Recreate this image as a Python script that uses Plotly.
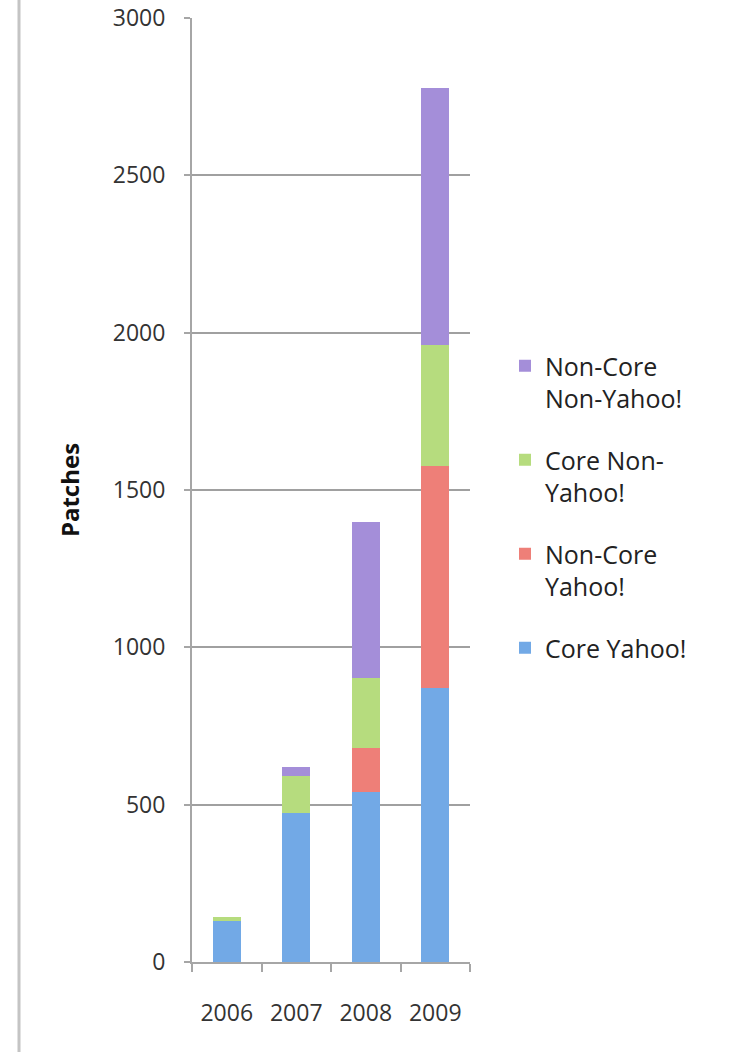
import plotly.graph_objects as go

years = ["2006", "2007", "2008", "2009"]
core_yahoo = [130, 473, 541, 870]
noncore_yahoo = [0, 0, 138, 707]
core_nonyahoo = [14, 118, 222, 384]
noncore_nonyahoo = [0, 29, 498, 816]

series_names = ["Core Yahoo!", "Non-Core<br>Yahoo!", "Core Non-<br>Yahoo!", "Non-Core<br>Non-Yahoo!"]
series_values = [core_yahoo, noncore_yahoo, core_nonyahoo, noncore_nonyahoo]
series_colors = ["#72a9e6", "#ee7f78", "#b6dc7e", "#a48ed9"]

L, R, T, B = 192, 280, 18, 90
W, H = 750, 1052
pw, ph = W - L - R, H - T - B

fig = go.Figure()
n = len(series_names)
for i, (name, vals, col) in enumerate(zip(series_names, series_values, series_colors)):
    fig.add_trace(go.Bar(
        x=years, y=vals, name=name,
        marker=dict(color=col, line=dict(width=0)),
        legendgroup=f"g{i}",
        legendrank=n - i,
    ))

fig.update_layout(
    width=W, height=H,
    margin=dict(l=L, r=R, t=T, b=B, autoexpand=False),
    paper_bgcolor="white", plot_bgcolor="white",
    barmode="stack", bargap=0.6,
    font=dict(family="Open Sans", color="#333333"),
    showlegend=True,
    legend=dict(
        x=(505 - L) / pw, xanchor="left",
        y=(962 - 343) / ph, yanchor="top",
        traceorder="grouped", tracegroupgap=26,
        font=dict(size=25, color="#222222", family="Open Sans"),
        valign="top", itemwidth=30,
        bgcolor="rgba(0,0,0,0)",
    ),
    xaxis=dict(
        showline=True, linecolor="#a6a6a6", linewidth=2,
        ticks="outside", tickson="boundaries", ticklen=8, tickcolor="#a6a6a6", tickwidth=2,
        tickfont=dict(size=23, color="#333333"),
        ticklabelstandoff=29,
        showgrid=False,
    ),
    yaxis=dict(
        range=[0, 3000], dtick=500,
        showline=True, linecolor="#a6a6a6", linewidth=2,
        ticks="outside", ticklen=6, tickcolor="#a6a6a6", tickwidth=2,
        tickfont=dict(size=23, color="#333333"),
        ticklabelstandoff=14,
        showgrid=True, gridcolor="#a0a0a0", gridwidth=1.5,
        zeroline=False,
        title=dict(text="<b>Patches</b>", font=dict(size=24, color="#111111"), standoff=26),
    ),
    shapes=[dict(
        type="line", xref="paper", yref="paper",
        x0=(19 - L) / pw, x1=(19 - L) / pw,
        y0=(962 - 0) / ph, y1=(962 - H) / ph,
        line=dict(color="#c4c4c4", width=3),
    )],
)

fig.write_html("out.html")
